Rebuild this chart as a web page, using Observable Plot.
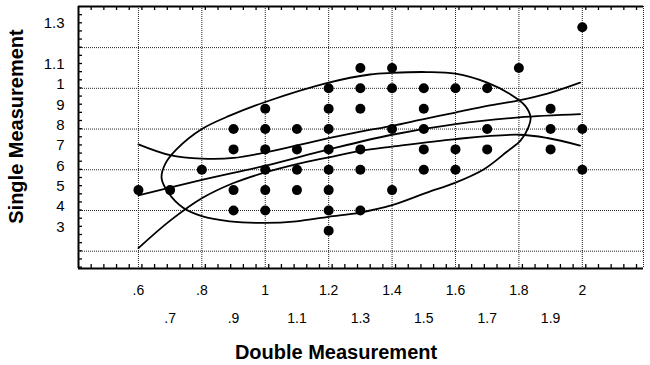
<!DOCTYPE html>
<html>
<head>
<meta charset="utf-8">
<script src="https://cdn.jsdelivr.net/npm/d3@7"></script>
<script src="https://cdn.jsdelivr.net/npm/@observablehq/plot@0.6"></script>
<style>
  html, body { margin: 0; padding: 0; background: #fff; }
  svg { display: block; }
</style>
</head>
<body>
<div id="chart"></div>
<script>
// ---- data ----
const pointsX = [0.6, 0.7, 0.8,
  0.9, 0.9, 0.9, 0.9,
  1.0, 1.0, 1.0, 1.0, 1.0, 1.0,
  1.1, 1.1, 1.1, 1.1,
  1.2, 1.2, 1.2, 1.2, 1.2, 1.2, 1.2, 1.2,
  1.3, 1.3, 1.3, 1.3, 1.3, 1.3,
  1.4, 1.4, 1.4, 1.4,
  1.5, 1.5, 1.5, 1.5, 1.5,
  1.6, 1.6, 1.6,
  1.7, 1.7, 1.7,
  1.8,
  1.9, 1.9, 1.9,
  2.0, 2.0, 2.0];
const pointsY = [0.5, 0.5, 0.6,
  0.8, 0.7, 0.5, 0.4,
  0.9, 0.8, 0.7, 0.6, 0.5, 0.4,
  0.8, 0.7, 0.6, 0.5,
  1.0, 0.9, 0.8, 0.7, 0.6, 0.5, 0.4, 0.3,
  1.1, 1.0, 0.9, 0.7, 0.6, 0.4,
  1.1, 1.0, 0.8, 0.5,
  1.0, 0.9, 0.8, 0.7, 0.6,
  1.0, 0.7, 0.6,
  1.0, 0.8, 0.7,
  1.1,
  0.9, 0.8, 0.7,
  1.3, 0.8, 0.6];

// regression line and bands
const midX = [0.6, 0.8, 1.0, 1.2, 1.4, 1.6, 1.8, 1.993];
const midY = [0.474, 0.55, 0.62, 0.70, 0.772, 0.824, 0.857, 0.873];
const upperX = [0.6, 0.7, 0.8, 0.9, 1.0, 1.1, 1.2, 1.3, 1.4, 1.5, 1.6, 1.7, 1.8, 1.89, 1.993];
const upperY = [0.725, 0.672, 0.655, 0.658, 0.685, 0.72, 0.755, 0.787, 0.816, 0.849, 0.881, 0.914, 0.941, 0.974, 1.028];
const lowerX = [0.6, 0.7, 0.8, 0.9, 1.0, 1.1, 1.2, 1.3, 1.4, 1.6, 1.8, 1.89, 1.993];
const lowerY = [0.215, 0.35, 0.46, 0.535, 0.587, 0.628, 0.661, 0.693, 0.714, 0.751, 0.772, 0.756, 0.719];

// ellipse outline
const ellX = [0.673, 0.685, 0.72, 0.80, 0.89, 1.0, 1.2, 1.33, 1.4, 1.51, 1.6, 1.70, 1.774, 1.82, 1.837, 1.83, 1.805, 1.763, 1.69, 1.6, 1.51, 1.4, 1.3, 1.2, 1.098, 1.0, 0.888, 0.8, 0.741, 0.694];
const ellY = [0.56, 0.63, 0.70, 0.80, 0.867, 0.933, 1.028, 1.068, 1.076, 1.08, 1.072, 1.028, 0.97, 0.914, 0.857, 0.808, 0.743, 0.69, 0.603, 0.537, 0.488, 0.426, 0.39, 0.369, 0.347, 0.339, 0.347, 0.372, 0.413, 0.488];

// axes
const xGrid = [0.6, 0.8, 1.0, 1.2, 1.4, 1.6, 1.8, 2.0];
const yGrid = [0.2, 0.4, 0.6, 0.8, 1.0, 1.2];
const xTicksRow1 = [0.6, 0.8, 1.0, 1.2, 1.4, 1.6, 1.8, 2.0];
const xLabelsRow1 = [".6", ".8", "1", "1.2", "1.4", "1.6", "1.8", "2"];
const xTicksRow2 = [0.7, 0.9, 1.1, 1.3, 1.5, 1.7, 1.9];
const xLabelsRow2 = [".7", ".9", "1.1", "1.3", "1.5", "1.7", "1.9"];
const yTicks = [1.3, 1.1, 1.0, 0.9, 0.8, 0.7, 0.6, 0.5, 0.4, 0.3];
const yLabels = ["1.3", "1.1", "1", "9", "8", "7", "6", "5", "4", "3"];
const xTitle = "Double Measurement";
const yTitle = "Single Measurement";

const xDomain = [0.411, 2.193];
const yDomain = [0.115, 1.402];
const minorX = d3.range(0.451, 2.19, 0.04);
const minorY = d3.range(1.362, 0.12, -0.04);

const pts = pointsX.map((x, i) => ({x, y: pointsY[i]}));
const toRows = (xs, ys) => xs.map((x, i) => ({x, y: ys[i]}));

const dotted = {stroke: "#222", strokeWidth: 1, strokeDasharray: "1,1"};
const tickLenY = (yDomain[1] - yDomain[0]) * 4 / 262;
const tickLenX = (xDomain[1] - xDomain[0]) * 4 / 565;

const chart = Plot.plot({
  width: 650,
  height: 365,
  marginLeft: 78,
  marginRight: 7,
  marginTop: 6,
  marginBottom: 97,
  style: {fontFamily: "'Liberation Sans', Arial, sans-serif", background: "#fff"},
  x: {domain: xDomain, axis: null},
  y: {domain: yDomain, axis: null},
  marks: [
    Plot.ruleX(xGrid, dotted),
    Plot.ruleY(yGrid, dotted),
    Plot.ruleX([xDomain[1]], dotted),
    // minor ticks
    Plot.ruleX(minorX, {y1: yDomain[0], y2: yDomain[0] + tickLenY, stroke: "#000", strokeWidth: 1.3}),
    Plot.ruleX(minorX, {y1: yDomain[1], y2: yDomain[1] - tickLenY, stroke: "#000", strokeWidth: 1.3}),
    Plot.ruleY(minorY, {x1: xDomain[0], x2: xDomain[0] + tickLenX, stroke: "#000", strokeWidth: 1.3}),
    // frame
    Plot.ruleY([yDomain[0]], {stroke: "#000", strokeWidth: 2}),
    Plot.ruleY([yDomain[1]], {stroke: "#000", strokeWidth: 2}),
    Plot.ruleX([xDomain[0]], {stroke: "#000", strokeWidth: 2}),
    // curves
    Plot.line(toRows(ellX, ellY), {x: "x", y: "y", curve: "catmull-rom-closed", stroke: "#000", strokeWidth: 1.8}),
    Plot.line(toRows(upperX, upperY), {x: "x", y: "y", curve: "catmull-rom", stroke: "#000", strokeWidth: 1.8}),
    Plot.line(toRows(midX, midY), {x: "x", y: "y", curve: "catmull-rom", stroke: "#000", strokeWidth: 1.8}),
    Plot.line(toRows(lowerX, lowerY), {x: "x", y: "y", curve: "catmull-rom", stroke: "#000", strokeWidth: 1.8}),
    // points
    Plot.dot(pts, {x: "x", y: "y", r: 5, fill: "#000", stroke: "none"}),
    // tick labels
    Plot.text(xTicksRow1, {x: d => d, text: (d, i) => xLabelsRow1[i], frameAnchor: "bottom", lineAnchor: "middle", dy: 22, fontSize: 14, fill: "#000"}),
    Plot.text(xTicksRow2, {x: d => d, text: (d, i) => xLabelsRow2[i], frameAnchor: "bottom", lineAnchor: "middle", dy: 50, fontSize: 14, fill: "#000"}),
    Plot.text(yTicks, {y: d => d, text: (d, i) => yLabels[i], frameAnchor: "left", textAnchor: "end", lineAnchor: "middle", dx: -14, dy: -4, fontSize: 15, fill: "#000"}),
    // titles
    Plot.text([xTitle], {text: d => d, frameAnchor: "bottom", textAnchor: "middle", lineAnchor: "middle", dx: -25, dy: 84, fontSize: 20, fontWeight: "bold", fill: "#000"}),
    Plot.text([yTitle], {text: d => d, frameAnchor: "left", textAnchor: "middle", lineAnchor: "middle", dx: -62, dy: -11, rotate: -90, fontSize: 20, fontWeight: "bold", fill: "#000"})
  ]
});
document.getElementById("chart").appendChild(chart);
</script>
</body>
</html>
